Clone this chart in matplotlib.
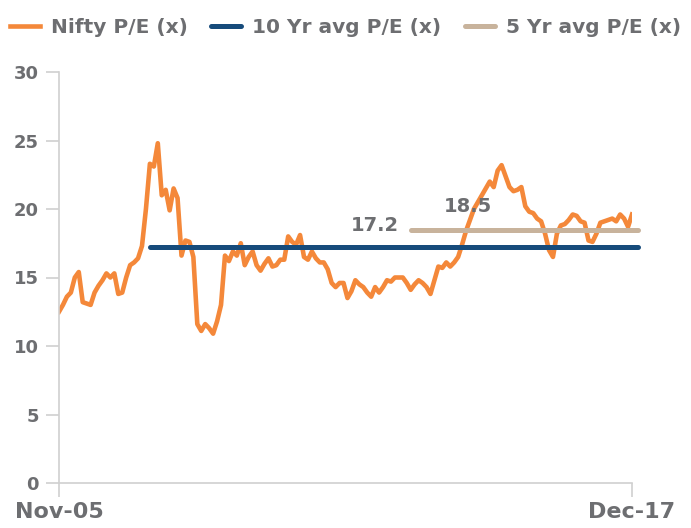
import matplotlib
matplotlib.use("Agg")
import matplotlib.pyplot as plt

# Monthly Nifty P/E, Nov-05 .. Dec-17 (146 months)
nifty_pe = [
    12.5, 13.0, 13.6, 13.9, 15.0, 15.4, 13.2, 13.1, 13.0, 13.9,
    14.4, 14.8, 15.3, 15.0, 15.3, 13.8, 13.9, 15.0, 15.9, 16.1,
    16.4, 17.3, 20.0, 23.3, 23.1, 24.8, 21.0, 21.4, 19.9, 21.5,
    20.8, 16.6, 17.7, 17.6, 16.5, 11.6, 11.1, 11.6, 11.3, 10.9,
    11.8, 13.0, 16.6, 16.2, 16.9, 16.6, 17.5, 15.9, 16.5, 16.9,
    15.9, 15.5, 16.0, 16.4, 15.8, 15.9, 16.3, 16.3, 18.0, 17.6,
    17.4, 18.1, 16.5, 16.3, 16.9, 16.4, 16.1, 16.1, 15.6, 14.6,
    14.3, 14.6, 14.6, 13.5, 14.0, 14.8, 14.5, 14.3, 13.9, 13.6,
    14.3, 13.9, 14.3, 14.8, 14.7, 15.0, 15.0, 15.0, 14.6, 14.1,
    14.5, 14.8, 14.6, 14.3, 13.8, 14.8, 15.8, 15.7, 16.1, 15.8,
    16.1, 16.5, 17.4, 18.4, 19.2, 20.0, 20.5, 21.0, 21.5, 22.0,
    21.6, 22.8, 23.2, 22.4, 21.6, 21.3, 21.4, 21.6, 20.2, 19.8,
    19.7, 19.3, 19.1, 18.2, 17.0, 16.5, 18.2, 18.8, 18.9, 19.2,
    19.6, 19.5, 19.1, 19.0, 17.7, 17.6, 18.2, 19.0, 19.1, 19.2,
    19.3, 19.1, 19.6, 19.3, 18.7, 19.6,
]
avg_10yr = 17.2
avg_5yr = 18.5
avg_10yr_start = 23   # month index where the 10 yr average line begins
avg_5yr_start = 89
x_ticklabels = ["Nov-05", "Dec-17"]
y_ticks = [0, 5, 10, 15, 20, 25, 30]

orange = "#F4883A"
navy = "#164B7B"
tan = "#C8B39C"
grey = "#6D6E71"
spine = "#D0D0D0"

fig = plt.figure(figsize=(6.91, 5.28), dpi=100)
ax = fig.add_axes([59 / 691, 1 - 483 / 528, 573 / 691, 411 / 528])

months = list(range(len(nifty_pe)))
last = months[-1]
ax.plot(months, nifty_pe, color=orange, lw=3.3, label="Nifty P/E (x)", zorder=2)
ax.plot([avg_10yr_start, last + 1.5], [avg_10yr, avg_10yr], color=navy, lw=3.6,
        solid_capstyle="round", clip_on=False, label="10 Yr avg P/E (x)", zorder=3)
ax.plot([avg_5yr_start, last + 1.5], [avg_5yr, avg_5yr], color=tan, lw=3.6,
        solid_capstyle="round", clip_on=False, label="5 Yr avg P/E (x)", zorder=3)

ax.text(80, 18.8, f"{avg_10yr:.1f}", color=grey, fontsize=14, fontweight="bold",
        ha="center", va="center")
ax.text(103.5, 20.2, f"{avg_5yr:.1f}", color=grey, fontsize=14, fontweight="bold",
        ha="center", va="center")

ax.set_xlim(0, last)
ax.set_ylim(0, 30)
ax.set_yticks(y_ticks)
ax.set_xticks([0, last])
ax.set_xticklabels(x_ticklabels)

for s in ["top", "right"]:
    ax.spines[s].set_visible(False)
for s in ["left", "bottom"]:
    ax.spines[s].set_color(spine)
    ax.spines[s].set_linewidth(1.2)

ax.tick_params(axis="y", length=9.5, width=1.2, color=spine, labelcolor=grey,
               labelsize=13, pad=5)
ax.tick_params(axis="x", length=10, width=1.2, color=spine, labelcolor=grey,
               labelsize=16, pad=4)
for lbl in ax.get_yticklabels() + ax.get_xticklabels():
    lbl.set_fontweight("bold")

leg = fig.legend(loc="upper center", bbox_to_anchor=(0.5, 1.0), ncol=3,
                 frameon=False, handlelength=1.5, handletextpad=0.55,
                 columnspacing=1.15, prop={"weight": "bold", "size": 14.5})
for t in leg.get_texts():
    t.set_color(grey)

fig.savefig("out.png", dpi=100)
